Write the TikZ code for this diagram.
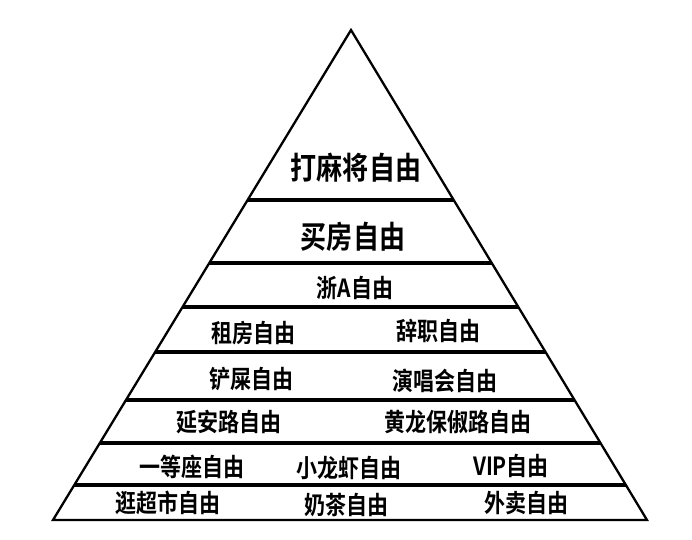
\documentclass[tikz,border=0pt]{standalone}
\usepackage{fontspec}
\newfontfamily\cjk{Noto Sans CJK SC}[FakeStretch=0.84,BoldFont={Noto Sans CJK SC Bold}]
\usetikzlibrary{calc}
\tikzset{
  level line/.style={line width=3.2pt},
  big label/.style={inner sep=0pt, font=\cjk\bfseries\fontsize{31}{31}\selectfont},
  small label/.style={inner sep=0pt, font=\cjk\bfseries\fontsize{25}{25}\selectfont},
}

\begin{document}
\begin{tikzpicture}[x=1pt,y=-1pt]
    \useasboundingbox (0,0) rectangle (692,539);
    % Define the corners of the pyramid
    \coordinate (top) at (351,30);
    \coordinate (bl) at (53,520);
    \coordinate (br) at (647,520);

    % Draw the pyramid
    \draw[line width=2.3pt] (bl) -- (top) -- (br) -- cycle;

    % Draw the level lines
    \foreach \h in {200,263,307,352,400,443,485}
      \draw[level line] ($(top)!{(\h-30)/490}!(bl)$) -- ($(top)!{(\h-30)/490}!(br)$);

    % Labels, top to bottom
    \node[big label] (mahjong) at (356,168) {打麻将自由};
    \node[big label] (house) at (353,237) {买房自由};
    \node[small label] (plate) at (355,288) {浙A自由};
    \node[small label] (rent) at (253,333) {租房自由};
    \node[small label] (quit) at (438,331) {辞职自由};
    \node[small label] (litter) at (251,379) {铲屎自由};
    \node[small label] (concert) at (445,381) {演唱会自由};
    \node[small label] (yanan) at (229,422) {延安路自由};
    \node[small label] (huanglong) at (458,422) {黄龙保俶路自由};
    \node[small label] (firstclass) at (192,467) {一等座自由};
    \node[small label] (crayfish) at (349,468) {小龙虾自由};
    \node[small label] (vip) at (511,466) {VIP自由};
    \node[small label] (market) at (168,503) {逛超市自由};
    \node[small label] (milktea) at (346,505) {奶茶自由};
    \node[small label] (takeout) at (526,503) {外卖自由};
\end{tikzpicture}
\end{document}
